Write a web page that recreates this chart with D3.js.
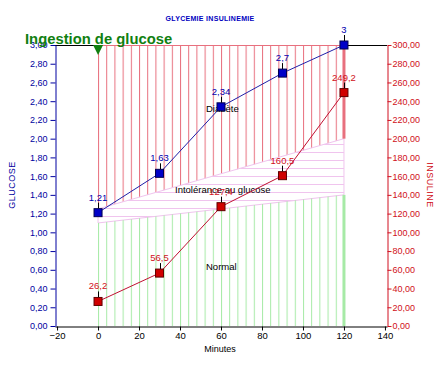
<!DOCTYPE html>
<html><head><meta charset="utf-8">
<script src="https://cdn.jsdelivr.net/npm/d3@7"></script>
<style>body{margin:0;background:#fff}svg{display:block;font-family:Arial,"Liberation Sans",sans-serif}</style>
</head><body>
<script>
const minutes = [0, 30, 60, 90, 120];
const glucose = [1.21, 1.63, 2.34, 2.7, 3];
const insulin = [26.2, 56.5, 127.4, 160.5, 249.2];
const glucoseLabels = ["1,21", "1,63", "2,34", "2,7", "3"];
const insulinLabels = ["26,2", "56,5", "127,4", "160,5", "249,2"];
const xTicks = [-20, 0, 20, 40, 60, 80, 100, 120, 140];
const zoneX = [0, 120];
const normalTop = [1.1, 1.4];
const intolTop = [1.25, 2.0];
const diabTop = [3.0, 3.0];
const zoneNames = ["Diabète", "Intolérance au glucose", "Normal"];

const W = 436, H = 368;
const svg = d3.select("body").append("svg").attr("width", W).attr("height", H);
const x = d3.scaleLinear().domain([-21, 141]).range([55, 387]);
const y = d3.scaleLinear().domain([0, 3]).range([326, 45]);
const yR = d3.scaleLinear().domain([0, 300]).range([326, 45]);
const fmt = v => d3.format(".2f")(v).replace(".", ",");

const defs = svg.append("defs");
const pw = x(4) - x(0);
function vPattern(id, color) {
  const p = defs.append("pattern").attr("id", id).attr("patternUnits", "userSpaceOnUse")
    .attr("x", x(0)).attr("y", 0).attr("width", pw).attr("height", 10);
  p.append("line").attr("x1", 0.5).attr("x2", 0.5).attr("y1", 0).attr("y2", 10)
    .attr("stroke", color).attr("stroke-width", 1);
}
vPattern("hRed", "#e8707e");
vPattern("hGreen", "#a6eaa6");
const pp = defs.append("pattern").attr("id", "hPink").attr("patternUnits", "userSpaceOnUse")
  .attr("x", 0).attr("y", 0).attr("width", 10).attr("height", 8);
pp.append("line").attr("x1", 0).attr("x2", 10).attr("y1", 0.5).attr("y2", 0.5)
  .attr("stroke", "#f0c4ee").attr("stroke-width", 1);

function band(lo, hi) {
  const pts = zoneX.map((v, i) => [x(v), y(hi[i])])
    .concat(zoneX.slice().reverse().map((v, j) => [x(v), y(lo[zoneX.length - 1 - j])]));
  return "M" + pts.map(p => p.join(",")).join("L") + "Z";
}
const zero = zoneX.map(() => 0);
svg.append("path").attr("d", band(intolTop, diabTop)).attr("fill", "url(#hRed)");
svg.append("path").attr("d", band(normalTop, intolTop)).attr("fill", "url(#hPink)")
  .attr("stroke", "#f0c4ee").attr("stroke-width", 1);
svg.append("path").attr("d", band(zero, normalTop)).attr("fill", "url(#hGreen)");
const xr = x(zoneX[1]);
svg.append("line").attr("x1", xr).attr("x2", xr).attr("y1", y(diabTop[1])).attr("y2", y(intolTop[1]))
  .attr("stroke", "#e8707e").attr("stroke-width", 3);
svg.append("line").attr("x1", xr).attr("x2", xr).attr("y1", y(normalTop[1])).attr("y2", y(0))
  .attr("stroke", "#a6eaa6").attr("stroke-width", 3);
svg.append("line").attr("x1", x(zoneX[0])).attr("x2", xr).attr("y1", y(3) + 0.5).attr("y2", y(3) + 0.5)
  .attr("stroke", "#e8707e");

svg.append("text").attr("x", 206).attr("y", 112).attr("font-size", 9.5).attr("fill", "#000").text(zoneNames[0]);
svg.append("text").attr("x", 175).attr("y", 193).attr("font-size", 9.5).attr("fill", "#000").text(zoneNames[1]);
svg.append("text").attr("x", 206).attr("y", 270).attr("font-size", 9.5).attr("fill", "#000").text(zoneNames[2]);

svg.append("line").attr("x1", 55).attr("x2", x(zoneX[0])).attr("y1", 45.5).attr("y2", 45.5).attr("stroke", "#000");
svg.append("line").attr("x1", xr + 1).attr("x2", 387).attr("y1", 45.5).attr("y2", 45.5).attr("stroke", "#000");

const gx = svg.append("g").attr("transform", "translate(0,326.5)")
  .call(d3.axisBottom(x).tickValues(xTicks).tickSize(4).tickSizeOuter(0).tickFormat(d3.format("d")));
gx.selectAll("path,line").attr("stroke", "#000");
gx.selectAll("text").attr("fill", "#000").attr("font-size", 9.5).attr("font-family", "Arial,Liberation Sans").attr("dy", "0.71em").attr("y", 6);
const gl = svg.append("g").attr("transform", "translate(55.5,0)")
  .call(d3.axisLeft(y).tickValues(d3.range(0, 16).map(i => i * 0.2)).tickSize(5).tickSizeOuter(0).tickFormat(fmt));
gl.selectAll("path,line").attr("stroke", "#0000a0");
gl.selectAll("text").attr("fill", "#0000a0").attr("font-size", 9).attr("font-family", "Arial,Liberation Sans");
const gr = svg.append("g").attr("transform", "translate(387.5,0)")
  .call(d3.axisRight(yR).tickValues(d3.range(0, 16).map(i => i * 20)).tickSize(4).tickSizeOuter(0).tickFormat(fmt));
gr.selectAll("path,line").attr("stroke", "#d01020");
gr.selectAll("text").attr("fill", "#d01020").attr("font-size", 9).attr("font-family", "Arial,Liberation Sans").attr("x", 5);

svg.append("text").attr("x", 220).attr("y", 352).attr("text-anchor", "middle").attr("font-size", 9).attr("fill", "#000").text("Minutes");
svg.append("text").attr("transform", "translate(15,185) rotate(-90)").attr("text-anchor", "middle")
  .attr("font-size", 9).attr("fill", "#0000a0").attr("letter-spacing", 0.5).text("GLUCOSE");
svg.append("text").attr("transform", "translate(427,185) rotate(90)").attr("text-anchor", "middle")
  .attr("font-size", 9).attr("fill", "#d01020").attr("letter-spacing", 0.5).text("INSULINE");
svg.append("text").attr("x", 210).attr("y", 21).attr("text-anchor", "middle").attr("font-size", 7)
  .attr("font-weight", "bold").attr("letter-spacing", 0.3).attr("fill", "#0000c0").text("GLYCEMIE INSULINEMIE");

const lineG = d3.line().x((d, i) => x(minutes[i])).y(d => y(d));
const lineI = d3.line().x((d, i) => x(minutes[i])).y(d => yR(d));
svg.append("path").attr("d", lineI(insulin)).attr("fill", "none").attr("stroke", "#c01030").attr("stroke-width", 1);
svg.append("path").attr("d", lineG(glucose)).attr("fill", "none").attr("stroke", "#2020a8").attr("stroke-width", 1);

function markers(vals, sc, labels, fill, stroke, textColor) {
  vals.forEach((v, i) => {
    const cx = x(minutes[i]), cy = sc(v);
    svg.append("line").attr("x1", Math.round(cx) + 0.5).attr("x2", Math.round(cx) + 0.5).attr("y1", cy - 4).attr("y2", cy - 10).attr("stroke", "#000");
    svg.append("rect").attr("x", cx - 4).attr("y", cy - 4).attr("width", 8).attr("height", 8)
      .attr("fill", fill).attr("stroke", stroke).attr("stroke-width", 1);
    svg.append("text").attr("x", cx).attr("y", cy - 12).attr("text-anchor", "middle").attr("font-size", 9.5)
      .attr("fill", textColor).text(labels[i]);
  });
}
markers(insulin, yR, insulinLabels, "#d00000", "#600000", "#d01020");
markers(glucose, y, glucoseLabels, "#0000c8", "#000050", "#0000b0");

const tx = x(0);
svg.append("path").attr("d", `M${tx - 5},45 L${tx + 5},45 L${tx},55 Z`).attr("fill", "#108010");
svg.append("text").attr("x", 25).attr("y", 44).attr("font-size", 14.8).attr("font-weight", "bold")
  .attr("fill", "#108010").text("Ingestion de glucose");
</script>
</body></html>
